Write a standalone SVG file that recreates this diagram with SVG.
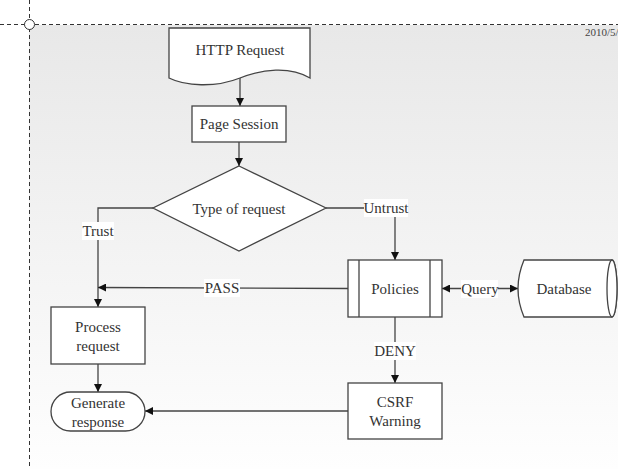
<svg xmlns="http://www.w3.org/2000/svg" width="618" height="469" viewBox="0 0 618 469">
<defs>
<linearGradient id="bg" x1="0" y1="0" x2="0" y2="1">
<stop offset="0" stop-color="#e8e8e8"/>
<stop offset="1" stop-color="#fefefe"/>
</linearGradient>
<marker id="ah" viewBox="0 0 10 10" refX="10" refY="5" markerWidth="8" markerHeight="8" markerUnits="userSpaceOnUse" orient="auto-start-reverse">
<path d="M0,0 L10,5 L0,10 Z" fill="#111"/>
</marker>
</defs>
<style>
.node{fill:#fff;stroke:#444;stroke-width:1.3}
text{font-family:'Liberation Serif','DejaVu Serif',serif}
.t{font-size:15px;fill:#333;text-anchor:middle}
.c{fill:none;stroke:#444;stroke-width:1.3}
.lb{fill:#fff}
.dash{stroke:#333;stroke-width:1;stroke-dasharray:4,3;fill:none}
</style>
<rect x="29" y="25" width="589" height="444" fill="url(#bg)"/>
<g id="frame">
<line class="dash" x1="0" y1="24.5" x2="618" y2="24.5"/>
<line class="dash" x1="29.5" y1="0" x2="29.5" y2="469"/>
<circle cx="29.5" cy="24.5" r="5" fill="#fff" stroke="#333" stroke-width="1"/>
<text x="585" y="36" font-size="11" fill="#444">2010/5/</text>
</g>
<g id="connectors">
<line class="c" x1="240" y1="77" x2="240" y2="106" marker-end="url(#ah)"/>
<line class="c" x1="239" y1="142" x2="239" y2="166" marker-end="url(#ah)"/>
<path class="c" d="M153,208 H98 V307" marker-end="url(#ah)"/>
<path class="c" d="M326,208 H395 V260" marker-end="url(#ah)"/>
<line class="c" x1="348" y1="288.5" x2="98" y2="287.5" marker-end="url(#ah)"/>
<line class="c" x1="442" y1="288.5" x2="518" y2="288.5" marker-start="url(#ah)" marker-end="url(#ah)"/>
<line class="c" x1="395" y1="317" x2="395" y2="383" marker-end="url(#ah)"/>
<line class="c" x1="98" y1="364" x2="98" y2="392" marker-end="url(#ah)"/>
<line class="c" x1="348" y1="411" x2="145" y2="411" marker-end="url(#ah)"/>
<rect class="lb" x="82" y="222" width="32" height="18"/>
<text class="t" x="98" y="236">Trust</text>
<rect class="lb" x="364" y="199" width="44" height="18"/>
<text class="t" x="386" y="213">Untrust</text>
<rect class="lb" x="204" y="279" width="36" height="18"/>
<text class="t" x="222" y="293">PASS</text>
<rect class="lb" x="461" y="280" width="37" height="18"/>
<text class="t" x="480" y="294">Query</text>
<rect class="lb" x="374" y="342" width="42" height="18"/>
<text class="t" x="395" y="356">DENY</text>
</g>
<g id="http-request">
<path class="node" d="M169,28 H310 V78 C290,66 262,69 240,78 C215,88 185,86 169,78 Z"/>
<text class="t" x="240" y="55">HTTP Request</text>
</g>
<g id="page-session">
<rect class="node" x="192" y="106" width="94" height="36"/>
<text class="t" x="239" y="129">Page Session</text>
</g>
<g id="type-of-request">
<path class="node" d="M239,166 L326,208 L239,251 L153,208 Z"/>
<text class="t" x="239" y="214">Type of request</text>
</g>
<g id="policies">
<rect class="node" x="348" y="260" width="94" height="57"/>
<line class="c" x1="359" y1="260" x2="359" y2="317"/>
<line class="c" x1="430" y1="260" x2="430" y2="317"/>
<text class="t" x="395" y="294">Policies</text>
</g>
<g id="database">
<path class="node" d="M524,260 H612 A5,28.5 0 0 1 612,317 H524 Q512,288.5 524,260 Z"/>
<ellipse class="node" cx="612" cy="288.5" rx="5" ry="28.5"/>
<text class="t" x="564" y="294">Database</text>
</g>
<g id="process-request">
<rect class="node" x="51" y="307" width="94" height="57"/>
<text class="t" x="98" y="332">Process</text>
<text class="t" x="98" y="351">request</text>
</g>
<g id="generate-response">
<rect class="node" x="51" y="392" width="94" height="39" rx="19.5" ry="19.5"/>
<text class="t" x="98" y="408">Generate</text>
<text class="t" x="98" y="427">response</text>
</g>
<g id="csrf-warning">
<rect class="node" x="348" y="383" width="94" height="56"/>
<text class="t" x="395" y="407">CSRF</text>
<text class="t" x="395" y="426">Warning</text>
</g>
</svg>
